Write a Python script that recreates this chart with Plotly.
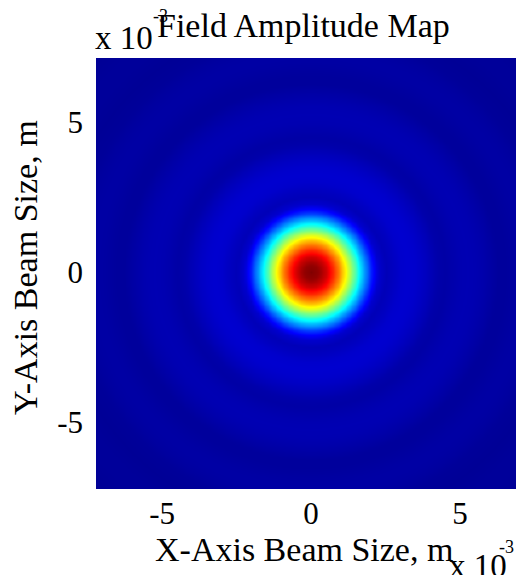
import numpy as np
import plotly.graph_objects as go

# Radial amplitude profile (radius in 1e-3 m -> normalised amplitude)
radius_mm = [0.0, 0.25, 0.5, 0.75, 1.0, 1.25, 1.5, 1.75, 2.0, 2.25, 2.5, 2.75, 3.0, 3.25,
             3.5, 3.75, 4.0, 4.25, 4.5, 4.75, 5.0, 5.25, 5.5, 5.75, 6.0, 6.25, 6.5, 6.75,
             7.0, 7.25, 7.5, 7.75, 8.0, 8.5, 9.0, 9.5, 10.0, 10.5, 11.0]
amplitude = [1.0, 0.98, 0.922, 0.831, 0.714, 0.578, 0.435, 0.293, 0.164, 0.07, 0.045, 0.055,
             0.068, 0.072, 0.068, 0.058, 0.045, 0.03, 0.025, 0.032, 0.038, 0.040, 0.038, 0.032,
             0.024, 0.015, 0.014, 0.018, 0.022, 0.024, 0.022, 0.018, 0.012, 0.008, 0.012, 0.012,
             0.008, 0.005, 0.005]

x_ticks = [-5e-3, 0, 5e-3]
x_tick_labels = ["-5", "0", "5"]
y_ticks = [-5e-3, 0, 5e-3]
y_tick_labels = ["-5", "0", "5"]

# grid of sample positions (m)
n = 181
xs = np.linspace(-7.3e-3, 7.3e-3, n)
ys = np.linspace(-7.3e-3, 7.3e-3, n)
XX, YY = np.meshgrid(xs, ys)
R = np.sqrt(XX**2 + YY**2) * 1e3
Z = np.interp(R, radius_mm, amplitude)

jet = [[0.0, "rgb(0,0,143)"], [0.125, "rgb(0,0,255)"], [0.375, "rgb(0,255,255)"],
       [0.625, "rgb(255,255,0)"], [0.875, "rgb(255,0,0)"], [1.0, "rgb(128,0,0)"]]

fig = go.Figure(go.Heatmap(x=xs, y=ys, z=Z, colorscale=jet, zmin=0, zmax=1,
                           showscale=False, zsmooth="best", hoverinfo="skip"))

font = "Liberation Serif, Times New Roman, serif"
OFF = 8  # page body margin offset
W, H = 524 - OFF, 583 - 2 * OFF
L, T = 96 - OFF, 58 - OFF
B = H - (489 - OFF)
fig.update_layout(
    width=W, height=H,
    margin=dict(l=L, r=0, t=T, b=B, autoexpand=False),
    paper_bgcolor="white", plot_bgcolor="white",
    font=dict(family=font, size=31, color="black"),
    showlegend=False,
)
fig.update_xaxes(range=[-7.22e-3, 7.15e-3], tickvals=x_ticks, ticktext=x_tick_labels,
                 ticks="", showgrid=False, zeroline=False, showline=False,
                 ticklabelstandoff=3, tickfont=dict(size=31, family=font))
fig.update_yaxes(range=[-7.23e-3, 7.13e-3], tickvals=y_ticks, ticktext=y_tick_labels,
                 ticks="", showgrid=False, zeroline=False, showline=False,
                 ticklabelstandoff=12, tickfont=dict(size=31, family=font))

# text placed by screen-pixel centres (reference coordinates)
texts = [
    ("Field Amplitude Map", 303, 25, 34, 0),
    ("x 10", 124, 38, 33, 0),
    ("-3", 160, 16, 18, 0),
    ("X-Axis Beam Size, m", 304, 549, 34, 0),
    ("x 10", 478, 566, 33, 0),
    ("-3", 506, 547, 18, 0),
    ("Y-Axis Beam Size, m", 25, 268, 34, -90),
]
plot_w = W - L
plot_h = H - T - B
annotations = []
for txt, sx, sy, fs, ang in texts:
    px, py = sx - OFF, sy - OFF
    annotations.append(dict(
        text=txt, xref="paper", yref="paper", showarrow=False,
        x=(px - L) / plot_w, y=(H - py - B) / plot_h,
        xanchor="center", yanchor="middle", textangle=ang,
        font=dict(family=font, size=fs, color="black")))
fig.update_layout(annotations=annotations)

fig.write_html("out.html")
